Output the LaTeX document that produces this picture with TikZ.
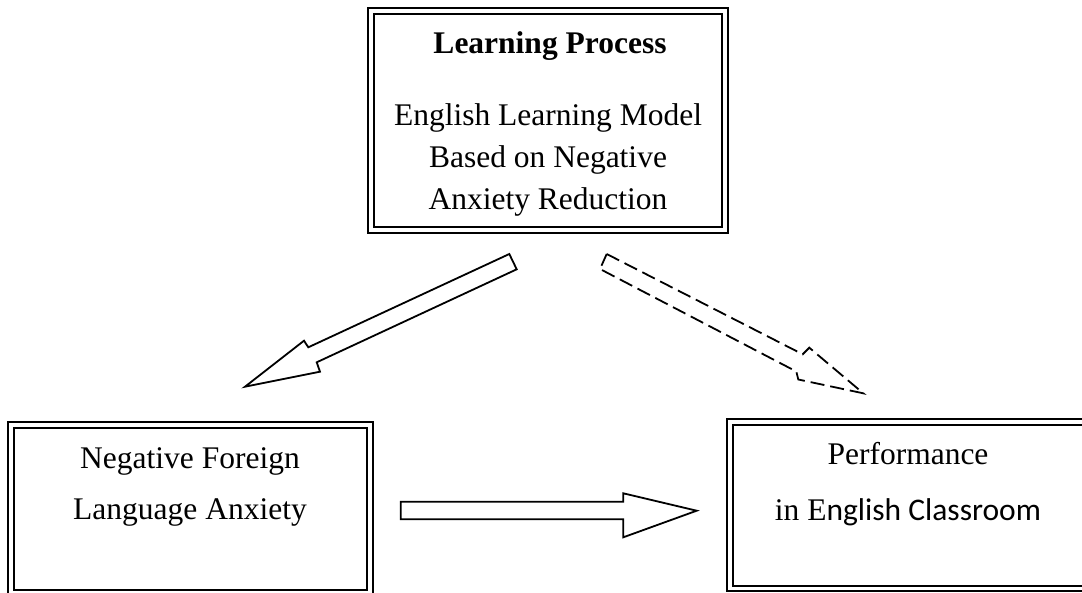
\documentclass[tikz,border=0pt]{standalone}
\usepackage{fontspec}
\setmainfont{Liberation Serif}
\newfontfamily\calib{Carlito}
\tikzset{
  outerline/.style={line width=2.8pt},
  innerline/.style={line width=1.8pt},
  blockarrow/.style={line width=1.8pt, line join=miter, fill=white},
  dasharrow/.style={line width=1.8pt, line join=miter, dash pattern=on 14pt off 6pt},
  txt/.style={anchor=base, inner sep=0pt, font=\fontsize{31.5}{40}\selectfont},
}
\begin{document}
\begin{tikzpicture}[x=1pt,y=-1pt]
\useasboundingbox (0,0) rectangle (1082,592);
\fill[white] (0,0) rectangle (1082,592);
% top box
\draw[outerline] (368,8) rectangle (728,233);
\draw[innerline] (374,14) rectangle (722,227);
\node[txt] (title) at (550,53) {\bfseries Learning Process};
\node[txt] (l1) at (548,125) {English Learning Model};
\node[txt] (l2) at (548,167) {Based on Negative};
\node[txt] (l3) at (548,209) {Anxiety Reduction};
% bottom-left box
\draw[outerline] (8,422) rectangle (373,597);
\draw[innerline] (14,428) rectangle (367,590);
\node[txt] (nf) at (190,468) {Negative Foreign};
\node[txt] (la) at (190,519) {Language Anxiety};
% bottom-right box
\draw[outerline] (727,419) rectangle (1092,591);
\draw[innerline] (733,425) rectangle (1086,586);
\node[txt] (pf) at (908,464) {Performance};
\node[txt] (ec) at (908,520) {in E{\calib nglish Classroom}};
% solid arrow to the left box
\coordinate (a1) at (509.3,254);
\coordinate (a2) at (308.3,347.3);
\coordinate (a3) at (304,340.7);
\coordinate (a4) at (245,386.7);
\coordinate (a5) at (320,371.7);
\coordinate (a6) at (316.7,362.3);
\coordinate (a7) at (516.7,269.3);
\draw[blockarrow] (a1) -- (a2) -- (a3) -- (a4) -- (a5) -- (a6) -- (a7) -- cycle;
% dashed arrow to the right box
\coordinate (b1) at (606.7,254);
\coordinate (b2) at (802.7,354.3);
\coordinate (b3) at (809.3,347.7);
\coordinate (b4) at (863.3,393.3);
\coordinate (b5) at (798.3,379.5);
\coordinate (b6) at (796.3,371.5);
\coordinate (b7) at (600,269);
\draw[dasharrow] (b1) -- (b2) -- (b3) -- (b4) -- (b5) -- (b6) -- (b7) -- cycle;
% horizontal arrow
\coordinate (c1) at (400.7,501.7);
\coordinate (c2) at (623.3,501.7);
\coordinate (c3) at (623.3,493.3);
\coordinate (c4) at (696.7,510.7);
\coordinate (c5) at (623.3,537.3);
\coordinate (c6) at (623.3,519.3);
\coordinate (c7) at (400.7,519.3);
\draw[blockarrow] (c1) -- (c2) -- (c3) -- (c4) -- (c5) -- (c6) -- (c7) -- cycle;
\end{tikzpicture}
\end{document}
